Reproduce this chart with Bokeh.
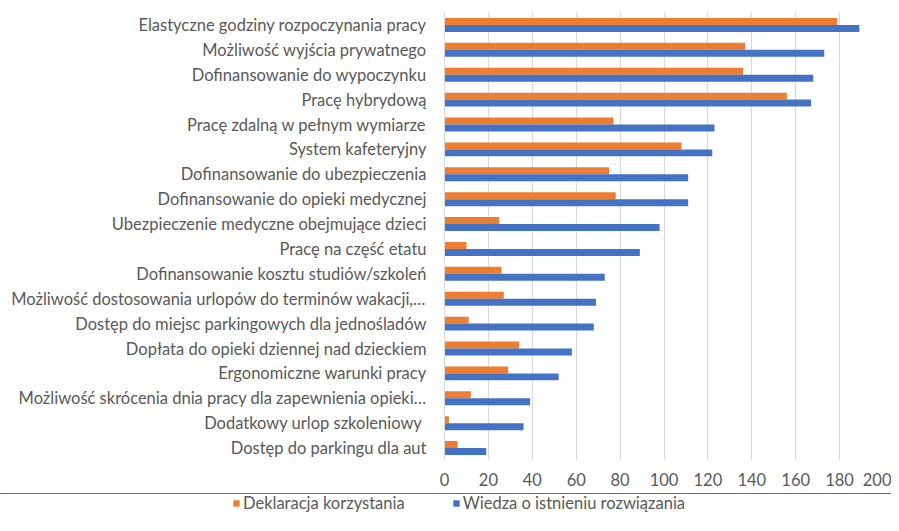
from bokeh.plotting import figure
from bokeh.models import FactorRange, Range1d, ColumnDataSource, Legend, LegendItem, FixedTicker
from bokeh.transform import dodge
from bokeh.embed import file_html
from bokeh.resources import INLINE

categories = [
    "Elastyczne godziny rozpoczynania pracy",
    "Możliwość wyjścia prywatnego",
    "Dofinansowanie do wypoczynku",
    "Pracę hybrydową",
    "Pracę zdalną w pełnym wymiarze",
    "System kafeteryjny",
    "Dofinansowanie do ubezpieczenia",
    "Dofinansowanie do opieki medycznej",
    "Ubezpieczenie medyczne obejmujące dzieci",
    "Pracę na część etatu",
    "Dofinansowanie kosztu studiów/szkoleń",
    "Możliwość dostosowania urlopów do terminów wakacji,…",
    "Dostęp do miejsc parkingowych dla jednośladów",
    "Dopłata do opieki dziennej nad dzieckiem",
    "Ergonomiczne warunki pracy",
    "Możliwość skrócenia dnia pracy dla zapewnienia opieki…",
    "Dodatkowy urlop szkoleniowy ",
    "Dostęp do parkingu dla aut",
]
deklaracja = [179, 137, 136, 156, 77, 108, 75, 78, 25, 10, 26, 27, 11, 34, 29, 12, 2, 6]
wiedza = [189, 173, 168, 167, 123, 122, 111, 111, 98, 89, 73, 69, 68, 58, 52, 39, 36, 19]
x_ticks = [0, 20, 40, 60, 80, 100, 120, 140, 160, 180, 200]
series_names = ["Deklaracja korzystania", "Wiedza o istnieniu rozwiązania"]

FONT = "Lato"
TXT = "#595959"
ORANGE = "#ED7D31"
BLUE = "#4472C4"
FS = "16.5px"

src = ColumnDataSource(dict(cat=categories, dek=deklaracja, wie=wiedza))

p = figure(
    frame_width=439, frame_height=448,
    y_range=FactorRange(factors=list(reversed(categories)), range_padding=0),
    x_range=Range1d(0, 200),
    output_backend="svg", toolbar_location=None,
    min_border_left=444, min_border_right=8, min_border_top=12, min_border_bottom=33,
)
p.outline_line_color = None

r1 = p.hbar(y=dodge("cat", 0.14, range=p.y_range), right="dek", left=0, height=0.28,
            source=src, color=ORANGE, line_color=None)
r2 = p.hbar(y=dodge("cat", -0.14, range=p.y_range), right="wie", left=0, height=0.28,
            source=src, color=BLUE, line_color=None)

p.xaxis.ticker = FixedTicker(ticks=x_ticks)
p.xaxis.axis_line_color = None
p.xaxis.major_tick_line_color = None
p.xaxis.minor_tick_line_color = None
p.xaxis.major_tick_out = 0
p.xaxis.major_label_text_font = FONT
p.xaxis.major_label_text_font_size = FS
p.xaxis.major_label_text_color = TXT
p.xaxis.major_label_standoff = 12

p.yaxis.axis_line_color = "#d9d9d9"
p.yaxis.major_tick_line_color = None
p.yaxis.minor_tick_line_color = None
p.yaxis.major_label_text_font = FONT
p.yaxis.major_label_text_font_size = FS
p.yaxis.major_label_text_color = TXT
p.yaxis.major_label_standoff = 12

p.xgrid.grid_line_color = "#d9d9d9"
p.xgrid.grid_line_width = 1.2
p.ygrid.grid_line_color = None

# legend strip below the chart, as a separate root (its frame spans its full width)
lg = figure(
    width=891, height=22,
    x_range=Range1d(0, 1), y_range=Range1d(0, 1),
    x_axis_location=None, y_axis_location=None,
    output_backend="svg", toolbar_location=None,
    min_border=0,
)
lg.grid.visible = False
lg.outline_line_color = None
# legend proxies: same data, positioned outside this strip's view
l1 = lg.hbar(y="dek", right="dek", left=0, height=0.5, source=src, color=ORANGE, line_color=None)
l2 = lg.hbar(y="wie", right="wie", left=0, height=0.5, source=src, color=BLUE, line_color=None)

legend = Legend(
    items=[LegendItem(label=series_names[0], renderers=[l1]),
           LegendItem(label=series_names[1], renderers=[l2])],
    orientation="horizontal",
    location=(232, 2),
    label_text_font=FONT, label_text_font_size=FS, label_text_color=TXT,
    label_height=18, glyph_width=8, glyph_height=8, label_standoff=3, spacing=47,
    border_line_color=None, background_fill_alpha=0, padding=0, margin=0,
)
lg.add_layout(legend, "center")

open("out.html", "w").write(file_html([p, lg], INLINE))
